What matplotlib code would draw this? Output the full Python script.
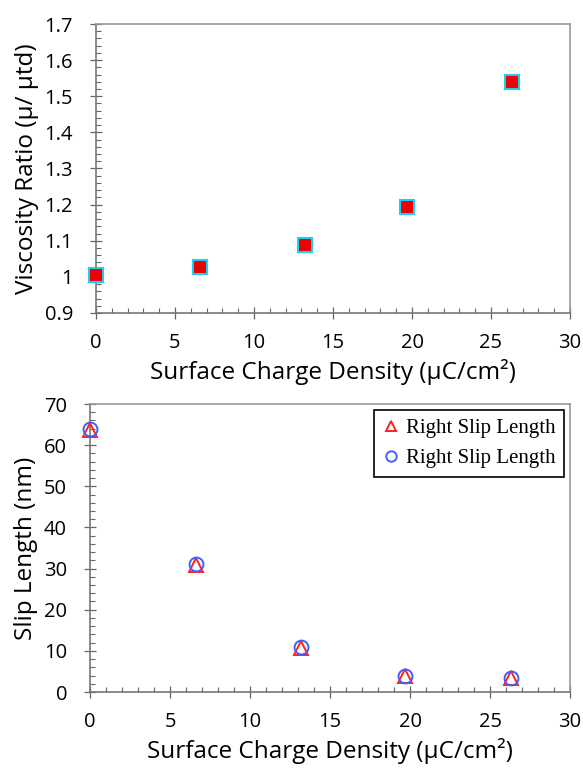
import matplotlib.pyplot as plt
from matplotlib.ticker import MultipleLocator

plt.rcParams['font.family'] = ['Open Sans', 'DejaVu Sans']

# surface charge density (uC/cm2)
charge = [0, 6.6, 13.2, 19.7, 26.3]
viscosity_ratio = [1.005, 1.027, 1.087, 1.193, 1.54]
slip_right = [63.8, 30.8, 10.8, 3.8, 3.3]
slip_left = [64.0, 31.0, 11.0, 4.0, 3.5]

xlabel = 'Surface Charge Density (\u03bcC/cm\u00b2)'

fig = plt.figure(figsize=(5.83, 7.68), dpi=100)
ax1 = fig.add_axes([96/583, 1 - 313/768, 474/583, 289/768])
ax2 = fig.add_axes([90/583, 1 - 692/768, 480/583, 288/768])

ax1.plot(charge, viscosity_ratio, 's', ms=10, mfc='#ee0000', mec='#22ccee', mew=1.5,
         clip_on=False, zorder=5)
ax1.set_xlim(0, 30)
ax1.set_ylim(0.9, 1.7)
ax1.yaxis.set_minor_locator(MultipleLocator(0.02))
ax1.set_yticks([0.9, 1.0, 1.1, 1.2, 1.3, 1.4, 1.5, 1.6, 1.7])
ax1.set_yticklabels(['0.9', '1', '1.1', '1.2', '1.3', '1.4', '1.5', '1.6', '1.7'])
ax1.set_ylabel('Viscosity Ratio (\u03bc/ \u03bctd)', fontsize=17.5, labelpad=4)

ax2.plot(charge, slip_right, '^', ms=10, mfc='none', mec='#ff2020', mew=1.4,
         label='Right Slip Length', clip_on=False, zorder=5)
ax2.plot(charge, slip_left, 'o', ms=10, mfc='none', mec='#4060ff', mew=1.4,
         label='Right Slip Length', clip_on=False, zorder=5)
ax2.set_xlim(0, 30)
ax2.set_ylim(0, 70)
ax2.yaxis.set_major_locator(MultipleLocator(10))
ax2.yaxis.set_minor_locator(MultipleLocator(2))
ax2.set_ylabel('Slip Length (nm)', fontsize=17.5, labelpad=4)
leg = ax2.legend(loc='upper right', prop={'family': 'Liberation Serif', 'size': 15},
                 fancybox=False, edgecolor='black', framealpha=1, markerscale=0.75,
                 handletextpad=0.25, borderpad=0.4, handlelength=0.9,
                 labelspacing=0.5, borderaxespad=0.3)
leg.get_frame().set_linewidth(1.2)

for ax in (ax1, ax2):
    ax.xaxis.set_major_locator(MultipleLocator(5))
    ax.xaxis.set_minor_locator(MultipleLocator(1))
    ax.set_xlabel(xlabel, fontsize=17.5, labelpad=4)
    ax.tick_params(which='major', direction='inout', length=9, width=0.9,
                   color='#666666', labelsize=14.5)
    ax.tick_params(axis='x', which='major', pad=10)
    ax.tick_params(axis='y', which='major', pad=12)
    ax.tick_params(which='minor', direction='in', length=3.5, width=0.8, color='#666666')
    ax.tick_params(top=False, right=False)
    for s in ax.spines.values():
        s.set_color('#999999')
        s.set_linewidth(1.2)
    ax.spines['left'].set_color('#777777')
    ax.spines['bottom'].set_color('#777777')

fig.savefig('out.png', dpi=100)
